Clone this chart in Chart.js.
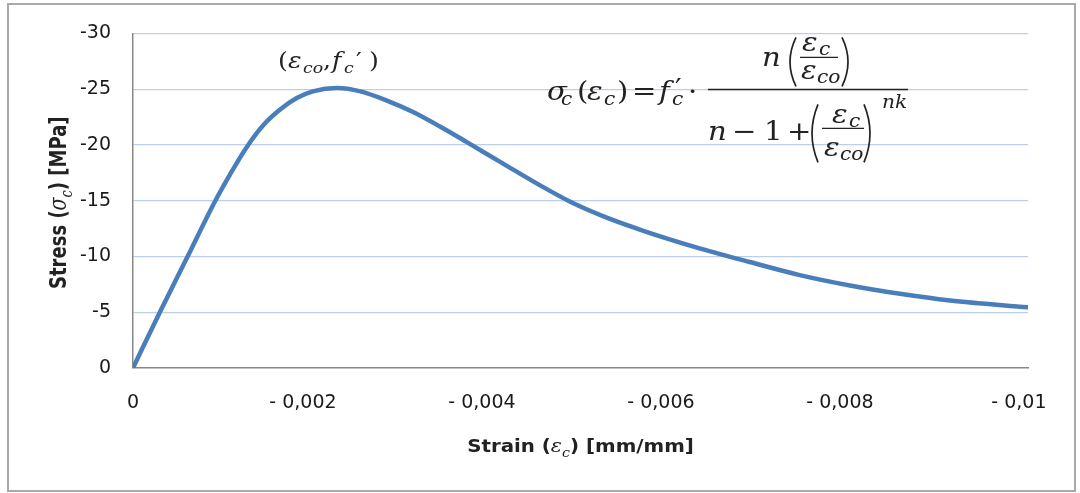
<!DOCTYPE html>
<html>
<head>
<meta charset="utf-8">
<script src="https://cdn.jsdelivr.net/npm/chart.js@4/dist/chart.umd.min.js"></script>
<style>
html,body{margin:0;padding:0;background:#fff;}
#wrap{width:1080px;height:493px;position:relative;}
</style>
</head>
<body>
<div id="wrap"><canvas id="c" width="1080" height="493"></canvas></div>
<script>
// ---- data (strain in mm/mm, stress in MPa; compression negative) ----
const strain = [0, -0.0003, -0.00061, -0.00092, -0.00108, -0.00127, -0.00146, -0.00164, -0.00183, -0.00201, -0.00228, -0.00254, -0.00283, -0.00313, -0.00343, -0.00373, -0.00414, -0.00451, -0.00488, -0.00525, -0.00563, -0.00596, -0.00634, -0.00689, -0.00745, -0.00801, -0.00857, -0.00913, -0.01];
const stress = [0, -5, -10, -15, -17.3, -19.8, -21.8, -23.15, -24.2, -24.8, -25.1, -24.8, -24.0, -22.95, -21.65, -20.25, -18.3, -16.55, -14.93, -13.62, -12.5, -11.62, -10.7, -9.5, -8.33, -7.4, -6.65, -6.05, -5.44];

const xTickValues = [0, -0.002, -0.004, -0.006, -0.008, -0.01];
const xTickLabels = ["0", "- 0,002   ", "- 0,004   ", "- 0,006   ", "- 0,008   ", "- 0,01   "];
const yTickValues = [-30, -25, -20, -15, -10, -5, 0];
const yTickLabels = ["-30", "-25", "-20", "-15", "-10", "-5", "0"];

const xTitleParts = ["Strain (", "ε", "c", ") [mm/mm]"];
const yTitleParts = ["Stress (", "σ", "c", ") [MPa]"];

// ---- text helpers ----
const SANS = '"DejaVu Sans", sans-serif';
const SERIF = '"DejaVu Serif", serif';
const INK = '#222222';

function put(ctx, t, x, y, font, sx) {
  ctx.save();
  ctx.font = font;
  ctx.fillStyle = INK;
  ctx.textAlign = 'left';
  ctx.textBaseline = 'alphabetic';
  ctx.translate(x, y);
  ctx.scale(sx || 1, 1);
  ctx.fillText(t, 0, 0);
  ctx.restore();
}
function paren(ctx, x0, x1, y0, y1, left) {
  ctx.save();
  ctx.strokeStyle = INK;
  ctx.lineWidth = 1.7;
  ctx.beginPath();
  const ym = (y0 + y1) / 2;
  if (left) { ctx.moveTo(x1, y0); ctx.quadraticCurveTo(x0 - 2, ym, x1, y1); }
  else { ctx.moveTo(x0, y0); ctx.quadraticCurveTo(x1 + 2, ym, x0, y1); }
  ctx.stroke();
  ctx.restore();
}
function hbar(ctx, x0, x1, y, w) {
  ctx.save();
  ctx.strokeStyle = INK;
  ctx.lineWidth = w || 1.4;
  ctx.beginPath(); ctx.moveTo(x0, y); ctx.lineTo(x1, y); ctx.stroke();
  ctx.restore();
}
function richTitle(ctx, parts, cx, cy, rot, stretch) {
  const segs = [
    {t: parts[0], f: 'bold 18px ' + SANS, dy: 0},
    {t: parts[1], f: 'italic 19px ' + SERIF, dy: 0},
    {t: parts[2], f: 'italic 13px ' + SERIF, dy: 5},
    {t: parts[3], f: 'bold 18px ' + SANS, dy: 0}
  ];
  let w = 0;
  segs.forEach(s => { ctx.font = s.f; s.w = ctx.measureText(s.t).width; w += s.w; });
  ctx.save();
  ctx.fillStyle = INK;
  ctx.textBaseline = 'alphabetic';
  ctx.textAlign = 'left';
  ctx.translate(cx, cy);
  if (rot) { ctx.rotate(rot); ctx.scale(1, stretch); } else { ctx.scale(stretch, 1); }
  let x = -w / 2;
  segs.forEach(s => { ctx.font = s.f; ctx.fillText(s.t, x, s.dy); x += s.w; });
  ctx.restore();
}

const framePlugin = {
  id: 'frame',
  beforeDraw(chart) {
    const c = chart.ctx;
    c.save();
    c.fillStyle = '#ffffff';
    c.fillRect(0, 0, chart.width, chart.height);
    c.strokeStyle = '#a9a9a9';
    c.lineWidth = 2;
    c.strokeRect(8, 4, 1067, 487);
    c.restore();
  }
};

const textPlugin = {
  id: 'mathText',
  afterDraw(chart) {
    const c = chart.ctx;
    const ca = chart.chartArea;
    const xs = chart.scales.x, ys = chart.scales.y;
    // axis titles
    richTitle(c, xTitleParts, (ca.left + ca.right) / 2, ca.bottom + 84, 0, 1.1);
    richTitle(c, yTitleParts, 66, (ca.top + ca.bottom) / 2 + 2, -Math.PI / 2, 1.25);

    // peak annotation (eps_co, f'c)
    let pk = 0;
    stress.forEach((v, i) => { if (v < stress[pk]) pk = i; });
    const px = xs.getPixelForValue(strain[pk]), py = ys.getPixelForValue(stress[pk]);
    const A = 'italic 22px ' + SERIF, As = 'italic 15px ' + SERIF, Au = '22px ' + SERIF;
    const ax = px + 1, ay = py - 20, S1 = 1.15;
    put(c, '(', ax - 60, ay, Au, S1);
    put(c, 'ε', ax - 50, ay, A, S1);
    put(c, 'co', ax - 35, ay + 5, As, S1);
    put(c, ',', ax - 15, ay, Au, S1);
    put(c, 'f', ax - 6, ay, A, S1);
    put(c, 'c', ax + 6, ay + 5, As, S1);
    put(c, '′', ax + 18, ay, Au, S1);
    put(c, ')', ax + 31, ay, Au, S1);

    // formula
    const bx = ca.left + 575, by = ca.top + 56, S = 1.12;
    const M = 'italic 26px ' + SERIF, Ms = 'italic 18px ' + SERIF, Mu = '26px ' + SERIF;
    // left side
    put(c, 'σ', bx - 161, by + 11, M, S);
    put(c, 'c', bx - 147, by + 16, Ms, S);
    put(c, '(', bx - 131, by + 11, Mu, S);
    put(c, 'ε', bx - 121, by + 11, M, S);
    put(c, 'c', bx - 104, by + 16, Ms, S);
    put(c, ')', bx - 91, by + 11, Mu, S);
    put(c, '=', bx - 76, by + 11, Mu, S);
    put(c, 'f', bx - 49, by + 11, M, S);
    put(c, '′', bx - 33, by + 8, Mu, S);
    put(c, 'c', bx - 36, by + 16, Ms, S);
    put(c, '·', bx - 20, by + 11, Mu, S);
    // main fraction bar
    hbar(c, bx, bx + 200, by, 1.5);
    // numerator
    put(c, 'n', bx + 54, by - 23, M, S);
    paren(c, bx + 78, bx + 88, by - 52, by - 3, true);
    put(c, 'ε', bx + 94, by - 38, M, S);
    put(c, 'c', bx + 111, by - 34, Ms, S);
    hbar(c, bx + 92, bx + 130, by - 32, 1.3);
    put(c, 'ε', bx + 93, by - 10, M, S);
    put(c, 'co', bx + 109, by - 6, Ms, S);
    paren(c, bx + 134, bx + 144, by - 52, by - 3, false);
    // denominator
    put(c, 'n', bx, by + 51, M, S);
    put(c, '−', bx + 24, by + 51, Mu, S);
    put(c, '1', bx + 56, by + 51, Mu, S);
    put(c, '+', bx + 79, by + 51, Mu, S);
    paren(c, bx + 100, bx + 110, by + 15, by + 73, true);
    put(c, 'ε', bx + 124, by + 34, M, S);
    put(c, 'c', bx + 141, by + 38, Ms, S);
    hbar(c, bx + 114, bx + 156, by + 39, 1.3);
    put(c, 'ε', bx + 116, by + 67, M, S);
    put(c, 'co', bx + 132, by + 71, Ms, S);
    paren(c, bx + 156, bx + 166, by + 15, by + 73, false);
    put(c, 'nk', bx + 174, by + 19, Ms, S);
  }
};

const ctx = document.getElementById('c').getContext('2d');
new Chart(ctx, {
  type: 'line',
  data: {
    datasets: [{
      data: strain.map((x, i) => ({x: x, y: stress[i]})),
      borderColor: '#4a7ebb',
      borderWidth: 4.5,
      pointRadius: 0,
      fill: false,
      cubicInterpolationMode: 'monotone',
      borderCapStyle: 'round',
      borderJoinStyle: 'round'
    }]
  },
  options: {
    responsive: false,
    animation: false,
    devicePixelRatio: 1,
    layout: {padding: {left: 0, top: 33, right: 52, bottom: 0}},
    plugins: {legend: {display: false}, tooltip: {enabled: false}, title: {display: false}},
    scales: {
      x: {
        type: 'linear', min: -0.01, max: 0, reverse: true,
        afterFit(s) { s.height = 125; s.paddingLeft = 0; s.paddingRight = 0; },
        afterBuildTicks(s) { s.ticks = xTickValues.map(v => ({value: v})); },
        grid: {display: false, drawTicks: false},
        border: {display: true, color: '#878787', width: 1.5},
        ticks: {
          padding: 24, maxRotation: 0, autoSkip: false, color: '#1a1a1a',
          font: {family: '"DejaVu Sans"', size: 19},
          callback: (v) => xTickLabels[xTickValues.indexOf(v)]
        }
      },
      y: {
        type: 'linear', min: -30, max: 0, reverse: true,
        afterFit(s) { s.width = 133; },
        afterBuildTicks(s) { s.ticks = yTickValues.map(v => ({value: v})); },
        grid: {
          drawTicks: false, lineWidth: 1.2,
          color: (c) => (c.tick && c.tick.value === 0) ? 'rgba(0,0,0,0)' : '#bccfe9'
        },
        border: {display: true, color: '#878787', width: 1.5},
        ticks: {
          padding: 22, color: '#1a1a1a',
          font: {family: '"DejaVu Sans"', size: 19},
          callback: (v) => yTickLabels[yTickValues.indexOf(v)]
        }
      }
    }
  },
  plugins: [framePlugin, textPlugin]
});
</script>
</body>
</html>
